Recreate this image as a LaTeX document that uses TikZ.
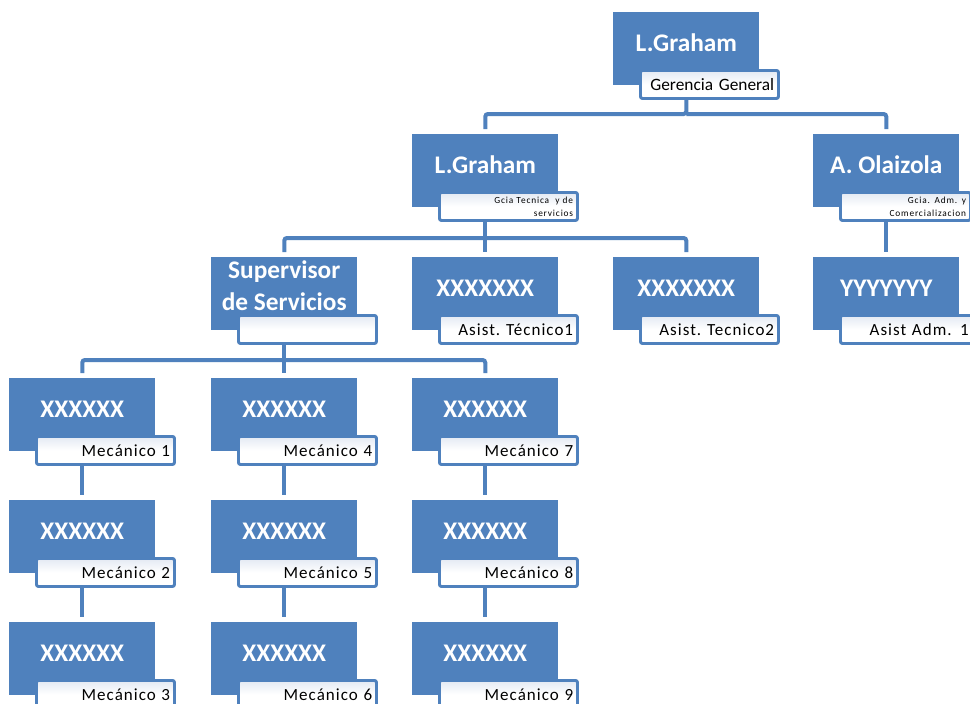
\documentclass[tikz,border=0pt]{standalone}
\usepackage{fontspec}
\setmainfont{Carlito}
\newfontfamily\lblfont[LetterSpace=6]{Carlito}
\newfontfamily\tinyfont[LetterSpace=9]{Carlito}
\definecolor{ob}{HTML}{4F81BD}
\definecolor{lbltop}{HTML}{E3E9F3}

\tikzset{
  unitbox/.style={rectangle, fill=ob, anchor=north west, minimum width=109.5pt,
    inner sep=0pt, text=white, font=\bfseries\fontsize{19}{24}\selectfont,
    text height=29.6pt, text depth=25.1pt},
  lblbox/.style={rectangle, draw=ob, line width=2.2pt, rounded corners=1.5pt,
    top color=lbltop, bottom color=white, middle color=white,
    anchor=north west, minimum height=21pt, text width=97pt,
    inner xsep=3.25pt, inner ysep=0pt, align=right, text=black,
    font=\lblfont\fontsize{12.75}{14}\selectfont},
  plainlbl/.style={font=\fontsize{13}{14}\selectfont},
  tinylbl/.style={font=\tinyfont\fontsize{7}{9.75}\selectfont},
  conn/.style={draw=ob, line width=3pt, rounded corners=2pt},
  toBox/.style={conn, shorten >=3.75pt},
}

\begin{document}
\begin{tikzpicture}[x=0.75pt, y=-0.75pt]
  \useasboundingbox (0,0) rectangle (970,703);
  \fill[white] (0,0) rectangle (970,703);

  % Level 0
  \node[unitbox] (g0) at (613,12) {L.Graham};
  \node[lblbox, plainlbl] (g0l) at (639,69) {Gerencia General};

  % Level 1
  \node[unitbox] (g1) at (412,134) {L.Graham};
  \node[lblbox, tinylbl] (g1l) at (438,191) {Gcia Tecnica \ y de\\servicios};
  \node[unitbox] (g2) at (813,134) {A. Olaizola};
  \node[lblbox, tinylbl, text width=91pt] (g2l) at (839,191) {Gcia. Adm. y\\Comercializacion};

  % Level 2
  \node[unitbox, align=center, text height=40pt, text depth=14.75pt] (s) at (211,257) {Supervisor\\de Servicios};
  \node[lblbox] (sl) at (237,314) {};
  \node[unitbox] (t1) at (412,257) {XXXXXXX};
  \node[lblbox] (t1l) at (438,314) {Asist.\kern-2pt{} Técnico1};
  \node[unitbox] (t2) at (613,257) {XXXXXXX};
  \node[lblbox] (t2l) at (639,314) {Asist.\kern-2pt{} Tecnico2};
  \node[unitbox] (y1) at (813,257) {YYYYYYY};
  \node[lblbox, text width=93pt] (y1l) at (839,314) {Asist Adm. 1};

  % Mechanics
  \node[unitbox] (m1) at (9,378) {XXXXXX};
  \node[lblbox] (m1l) at (35,435) {Mecánico 1};
  \node[unitbox] (m2) at (9,500) {XXXXXX};
  \node[lblbox] (m2l) at (35,557) {Mecánico 2};
  \node[unitbox] (m3) at (9,622) {XXXXXX};
  \node[lblbox] (m3l) at (35,679) {Mecánico 3};

  \node[unitbox] (m4) at (211,378) {XXXXXX};
  \node[lblbox] (m4l) at (237,435) {Mecánico 4};
  \node[unitbox] (m5) at (211,500) {XXXXXX};
  \node[lblbox] (m5l) at (237,557) {Mecánico 5};
  \node[unitbox] (m6) at (211,622) {XXXXXX};
  \node[lblbox] (m6l) at (237,679) {Mecánico 6};

  \node[unitbox] (m7) at (412,378) {XXXXXX};
  \node[lblbox] (m7l) at (438,435) {Mecánico 7};
  \node[unitbox] (m8) at (412,500) {XXXXXX};
  \node[lblbox] (m8l) at (438,557) {Mecánico 8};
  \node[unitbox] (m9) at (412,622) {XXXXXX};
  \node[lblbox] (m9l) at (438,679) {Mecánico 9};

  % Connectors
  \coordinate (bus0) at (g0.south |- 0,114);
  \draw[toBox] (g0.south |- g0l.south) -- (bus0) -| (g1.north);
  \draw[toBox] (bus0) -| (g2.north);

  \coordinate (bus1) at (g1.south |- 0,238);
  \draw[toBox] (g1.south |- g1l.south) -- (bus1) -| (t1.north);
  \draw[toBox] (bus1) -| (s.north);
  \draw[toBox] (bus1) -| (t2.north);

  \draw[toBox] (g2.south |- g2l.south) -- (y1.north);

  \coordinate (bus2) at (s.south |- 0,360);
  \draw[toBox] (s.south |- sl.south) -- (bus2) -| (m4.north);
  \draw[toBox] (bus2) -| (m1.north);
  \draw[toBox] (bus2) -| (m7.north);

  \draw[toBox] (m1.south |- m1l.south) -- (m2.north);
  \draw[toBox] (m2.south |- m2l.south) -- (m3.north);
  \draw[toBox] (m4.south |- m4l.south) -- (m5.north);
  \draw[toBox] (m5.south |- m5l.south) -- (m6.north);
  \draw[toBox] (m7.south |- m7l.south) -- (m8.north);
  \draw[toBox] (m8.south |- m8l.south) -- (m9.north);
\end{tikzpicture}
\end{document}
